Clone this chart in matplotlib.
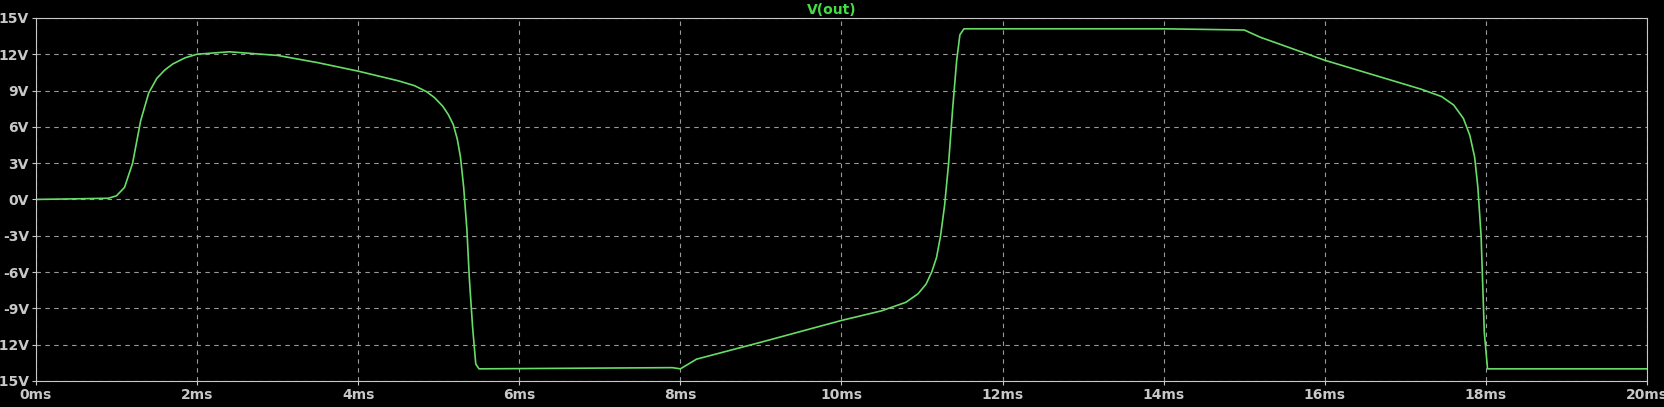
import numpy as np
import matplotlib.pyplot as plt

# V(out) transient (time in ms, volts)
t_ms = [0, 0.5, 0.9, 1.0, 1.1, 1.2, 1.3, 1.4, 1.5, 1.6, 1.7, 1.85, 2.0, 2.4, 3.0, 3.5, 4.0, 4.5,
        4.7, 4.85, 4.95, 5.05, 5.12, 5.18, 5.23, 5.27, 5.31, 5.35, 5.38, 5.42, 5.46, 5.5, 7.9, 8.0,
        8.2, 9.0, 10.0, 10.5, 10.8, 10.95, 11.05, 11.12, 11.18, 11.23, 11.28, 11.33, 11.38, 11.43,
        11.47, 11.52, 14.0, 15.0, 15.2, 16.0, 17.2, 17.45, 17.6, 17.72, 17.8, 17.86, 17.9, 17.94,
        17.98, 18.02, 20.0]
v_out = [0, 0.05, 0.1, 0.3, 1.0, 3.0, 6.5, 8.8, 10.0, 10.7, 11.2, 11.7, 12.0, 12.2, 11.9, 11.3, 10.6, 9.8,
         9.4, 8.9, 8.4, 7.7, 7.0, 6.2, 5.0, 3.5, 1.0, -2.5, -6.5, -10.5, -13.6, -14.0, -13.9, -14.0,
         -13.2, -11.8, -10.0, -9.2, -8.5, -7.8, -7.0, -6.0, -4.8, -3.0, -0.5, 3.0, 7.5, 11.5,
         13.6, 14.1, 14.1, 14.0, 13.4, 11.5, 9.1, 8.5, 7.8, 6.7, 5.3, 3.5, 1.0, -3.0,
         -11.0, -14.0, -14.0]

y_ticks = np.arange(-15, 16, 3)
x_ticks = np.arange(0, 21, 2)

fig = plt.figure(figsize=(16.64, 4.07), dpi=100, facecolor='black')
ax = fig.add_axes([0.0216, 0.064, 0.9682, 0.892], facecolor='black')

ax.plot(t_ms, v_out, color='#66dd66', lw=1.2)

ax.set_xlim(0, 20)
ax.set_ylim(-15, 15)
ax.set_xticks(x_ticks)
ax.set_yticks(y_ticks)
ax.set_xticklabels([f"{v}ms" for v in x_ticks])
ax.set_yticklabels([f"{v}V" for v in y_ticks])
ax.tick_params(colors='#c8c8c8', labelcolor='#c8c8c8', labelsize=10, length=3, pad=2,
               direction='out')
for lbl in ax.get_xticklabels() + ax.get_yticklabels():
    lbl.set_fontfamily('DejaVu Sans Condensed')
    lbl.set_fontweight('bold')
ax.grid(True, color='#9a9a9a', ls=(0, (4, 4)), lw=0.8)
for s in ax.spines.values():
    s.set_color('#c8c8c8')

fig.text(0.5, 0.975, "V(out)", color='#44dd44', ha='center', va='center', fontsize=10,
         fontweight='bold', family='DejaVu Sans Condensed')

fig.savefig('out.png', dpi=100, facecolor='black')
